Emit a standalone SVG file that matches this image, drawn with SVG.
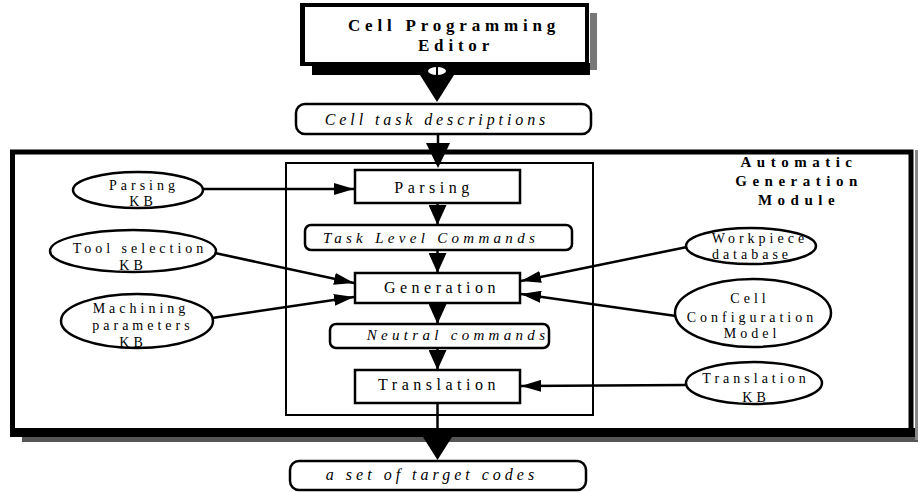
<svg xmlns="http://www.w3.org/2000/svg" width="919" height="493" viewBox="0 0 919 493">
<style>
.t{font-family:"Liberation Serif","Times New Roman",serif;fill:#000;text-anchor:middle}
.bx{fill:#fff;stroke:#000;stroke-width:2.5}
.el{fill:#fff;stroke:#000;stroke-width:2.5}
.lbl{font-size:14px;letter-spacing:4px}
.box{font-size:16px;letter-spacing:4.5px}
.it{font-size:15px;font-style:italic;letter-spacing:4.3px}
.bold{font-weight:bold}
.c{stroke:#000;stroke-width:2.5;fill:none}
</style>
<defs>
<marker id="ah" markerUnits="userSpaceOnUse" markerWidth="20" markerHeight="12" refX="20" refY="6" orient="auto">
<path d="M0,0 L20,6 L0,12 z" fill="#000"/>
</marker>
<marker id="av" markerUnits="userSpaceOnUse" markerWidth="20" markerHeight="18" refX="20" refY="9" orient="auto">
<path d="M0,0 L20,9 L0,18 z" fill="#000"/>
</marker>
</defs>
<rect width="919" height="493" fill="#fff"/>

<g id="module">
<rect x="12.5" y="152" width="898.5" height="280" fill="none" stroke="#000" stroke-width="5"/>
<rect x="10" y="428" width="905" height="9" fill="#000"/>
<rect x="22" y="437" width="896" height="5" fill="#555"/>
<rect x="915" y="150" width="3" height="290" fill="#888"/>
<text class="t bold" style="font-size:15px;letter-spacing:5.5px" x="799" y="167">Automatic</text>
<text class="t bold" style="font-size:15px;letter-spacing:5.5px" x="799" y="186">Generation</text>
<text class="t bold" style="font-size:15px;letter-spacing:5.5px" x="799" y="205">Module</text>
<rect x="286" y="163" width="307" height="252" fill="none" stroke="#000" stroke-width="2"/>
</g>

<g id="editor">
<rect x="590" y="13" width="7" height="57" fill="#777"/>
<rect x="312" y="63" width="278" height="12" fill="#000"/>
<rect x="302" y="5" width="285" height="59" fill="#fff" stroke="#000" stroke-width="4"/>
<rect x="300" y="5" width="5" height="60" fill="#000"/>
<text class="t bold" style="font-size:17px;letter-spacing:4.8px" x="454" y="31">Cell Programming</text>
<text class="t bold" style="font-size:17px;letter-spacing:4.8px" x="456" y="51">Editor</text>
</g>

<g id="cell-task">
<rect class="bx" x="296" y="104" width="295" height="30" rx="9"/>
<text class="t it" style="font-size:16px;letter-spacing:3.9px" x="437" y="125">Cell task descriptions</text>
</g>

<g id="parsing">
<rect class="bx" x="355" y="170" width="165" height="33"/>
<text class="t box" x="434" y="193">Parsing</text>
</g>

<g id="task-level">
<rect class="bx" x="305" y="225" width="267" height="25" rx="6"/>
<text class="t it" x="431" y="243">Task Level Commands</text>
</g>

<g id="generation">
<rect class="bx" x="355" y="273" width="165" height="30"/>
<text class="t box" x="442" y="293">Generation</text>
</g>

<g id="neutral">
<rect class="bx" x="330" y="324" width="219" height="24" rx="6"/>
<text class="t it" x="458" y="340">Neutral commands</text>
</g>

<g id="translation">
<rect class="bx" x="355" y="370" width="165" height="33"/>
<text class="t box" x="439" y="390">Translation</text>
</g>

<g id="target">
<rect class="bx" x="290" y="461" width="296" height="29" rx="9"/>
<text class="t it" style="font-size:16px;letter-spacing:4px" x="432" y="480">a set of target codes</text>
</g>

<g id="parsing-kb">
<ellipse class="el" cx="138" cy="190" rx="65" ry="18"/>
<text class="t lbl" x="144" y="190">Parsing</text>
<text class="t lbl" x="143" y="206">KB</text>
</g>

<g id="tool-kb">
<ellipse class="el" cx="133" cy="251" rx="83" ry="21"/>
<text class="t lbl" x="140" y="253">Tool selection</text>
<text class="t lbl" x="133" y="270">KB</text>
</g>

<g id="machining-kb">
<ellipse class="el" cx="137" cy="321" rx="76" ry="27"/>
<text class="t lbl" x="141" y="313">Machining</text>
<text class="t lbl" x="143" y="330">parameters</text>
<text class="t lbl" x="133" y="347">KB</text>
</g>

<g id="workpiece-db">
<ellipse class="el" cx="751" cy="246" rx="65" ry="18"/>
<text class="t lbl" x="760" y="243">Workpiece</text>
<text class="t lbl" x="752" y="259">database</text>
</g>

<g id="cell-config">
<ellipse class="el" cx="753" cy="313" rx="78" ry="34"/>
<text class="t lbl" x="750" y="303">Cell</text>
<text class="t lbl" x="752" y="322">Configuration</text>
<text class="t lbl" x="752" y="338">Model</text>
</g>

<g id="translation-kb">
<ellipse class="el" cx="754" cy="383" rx="68" ry="21"/>
<text class="t lbl" x="756" y="383">Translation</text>
<text class="t lbl" x="756" y="402">KB</text>
</g>

<g id="connectors">
<ellipse cx="437" cy="71" rx="9" ry="4" fill="#fff"/>
<line x1="437" y1="67" x2="437" y2="75" stroke="#000" stroke-width="2"/>
<polygon points="420,75 454,75 437,102" fill="#000"/>
<line class="c" x1="438" y1="134" x2="438" y2="145"/>
<polygon points="426,143 450,143 438,168" fill="#000"/>
<line class="c" x1="437.5" y1="203" x2="437.5" y2="225" marker-end="url(#av)"/>
<line class="c" x1="437.5" y1="250" x2="437.5" y2="273" marker-end="url(#av)"/>
<line class="c" x1="437.5" y1="303" x2="437.5" y2="324" marker-end="url(#av)"/>
<line class="c" x1="437.5" y1="348" x2="437.5" y2="370" marker-end="url(#av)"/>
<line class="c" x1="437.5" y1="403" x2="437.5" y2="438"/>
<polygon points="423,437 452,437 437.5,460" fill="#000"/>
<line class="c" x1="204" y1="189" x2="354" y2="189" marker-end="url(#ah)"/>
<line class="c" x1="215" y1="253" x2="354" y2="283" marker-end="url(#ah)"/>
<line class="c" x1="212" y1="318" x2="354" y2="297" marker-end="url(#ah)"/>
<line class="c" x1="687" y1="247" x2="521" y2="281" marker-end="url(#ah)"/>
<line class="c" x1="676" y1="316" x2="521" y2="294" marker-end="url(#ah)"/>
<line class="c" x1="686" y1="385" x2="521" y2="386" marker-end="url(#ah)"/>
</g>
</svg>
